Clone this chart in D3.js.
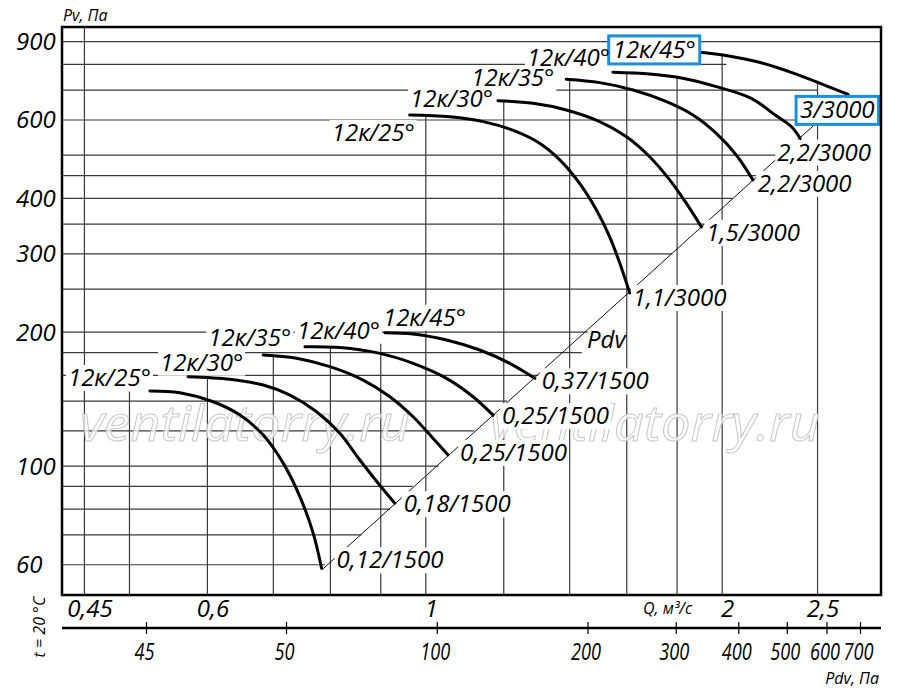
<!DOCTYPE html>
<html>
<head>
<meta charset="utf-8">
<script src="https://cdn.jsdelivr.net/npm/d3@7"></script>
<style>
  body { margin: 0; background: #fff; }
  text { font-family: "Open Sans", sans-serif; font-style: italic; }
</style>
</head>
<body>
<div id="chart"></div>
<script>
// ---- data ----
const qTicks = [0.45, 0.6, 1, 2, 2.5];
const qTickLabels = ["0,45", "0,6", "1", "2", "2,5"];
const pTicks = [60, 100, 200, 300, 400, 600, 900];
const pdvTicks = [45, 50, 100, 200, 300, 400, 500, 600, 700];

// horizontal grid lines (Pv) and where each one stops (Q)
const gridP    = [900, 800, 700, 600, 500, 450, 400, 350, 300, 250, 200, 180, 160, 140, 120, 100, 90, 80, 70, 60];
const gridPEnd = [2.9, 2.02, 2.5, 2.55, 2.28, 2.17, 2.05, 1.92, 1.78, 1.62, 1.46, 1.44, 1.30, 1.21, 1.12, 1.03, 0.97, 0.92, 0.86, 0.79];
// vertical grid lines (Q) and their top (Pv)
const gridQ    = [0.45, 0.5, 0.6, 0.7, 0.8, 0.9, 1.0, 1.2, 1.4, 1.6, 1.8, 2.0, 2.5];
const gridQTop = [971, 147, 159, 178, 184, 198, 616, 660, 741, 764, 745, 840, 735];

// Pdv line
const pdvLineQ = [0.784, 2.685];
const pdvLineP = [58.4, 685];

// 3000 rpm
const highNames  = ["12к/25°", "12к/30°", "12к/35°", "12к/40°", "12к/45°"];
const highMotors = ["1,1/3000", "1,5/3000", "2,2/3000", "2,2/3000", "3/3000"];
const highQ = [
  [0.963, 1.058, 1.144, 1.236, 1.305, 1.368, 1.433, 1.491, 1.537, 1.574, 1.611],
  [1.184, 1.285, 1.389, 1.502, 1.599, 1.688, 1.769, 1.839, 1.905],
  [1.389, 1.502, 1.624, 1.756, 1.868, 1.973, 2.068, 2.149],
  [1.549, 1.688, 1.824, 1.973, 2.141, 2.270, 2.351, 2.401],
  [1.794, 1.911, 2.004, 2.200, 2.386, 2.552, 2.685]
];
const highP = [
  [616, 610, 595, 565, 532, 488, 432, 376, 328, 286, 245],
  [663, 654, 632, 595, 550, 496, 440, 390, 345],
  [741, 728, 701, 660, 616, 560, 500, 440],
  [768, 761, 745, 713, 671, 613, 580, 545],
  [858, 851, 840, 805, 759, 716, 685]
];

// 1500 rpm
const lowNames  = ["12к/25°", "12к/30°", "12к/35°", "12к/40°", "12к/45°"];
const lowMotors = ["0,12/1500", "0,18/1500", "0,25/1500", "0,25/1500", "0,37/1500"];
const lowQ = [
  [0.5245, 0.5625, 0.6082, 0.6475, 0.6837, 0.7166, 0.745, 0.7685, 0.7836],
  [0.5735, 0.6324, 0.6837, 0.7278, 0.7745, 0.8178, 0.857, 0.8945, 0.9301],
  [0.6837, 0.739, 0.7991, 0.8636, 0.9194, 0.9707, 1.0172, 1.0534],
  [0.7537, 0.8115, 0.8981, 0.9707, 1.0496, 1.1169, 1.1704],
  [0.9088, 0.9707, 1.0496, 1.1345, 1.2168, 1.2904]
];
const lowP = [
  [147.5, 146.2, 139.5, 130.2, 117.4, 101.4, 85.3, 70.6, 58.9],
  [158.8, 156.7, 152.1, 144.4, 132.5, 118.5, 103.2, 91.5, 82.5],
  [177.8, 174.8, 167.3, 156.1, 143.2, 129.1, 115.4, 105.9],
  [185.5, 184.9, 179.2, 170.2, 157.5, 143.2, 130.2],
  [199.5, 198.2, 192.1, 182.4, 170.2, 157.5]
];

// ---- layout ----
const width = 900, height = 689;
const FS = 24;

const svg = d3.select("#chart").append("svg")
  .attr("width", width)
  .attr("height", height)
  .style("background-color", "#fff");

const x = d3.scaleLog().domain([0.427, 2.9]).range([62, 881]);
const y = d3.scaleLog().domain([51.3, 971]).range([595, 27]);
const xPdv = d3.scaleLog().domain([45, 50, 700]).range([146, 286, 860]);

// grid
const grid = svg.append("g").attr("stroke", "#3a3a3a").attr("stroke-width", 1.2);
grid.selectAll("line.h").data(gridP).join("line").attr("class", "h")
  .attr("x1", x.range()[0]).attr("x2", (d, i) => x(gridPEnd[i]))
  .attr("y1", d => y(d)).attr("y2", d => y(d));
grid.selectAll("line.v").data(gridQ).join("line").attr("class", "v")
  .attr("x1", d => x(d)).attr("x2", d => x(d))
  .attr("y1", y.range()[0]).attr("y2", (d, i) => y(gridQTop[i]));

// watermark
svg.append("g").selectAll("text").data([80, 490]).join("text")
  .attr("x", d => d).attr("y", 441)
  .attr("font-size", 50)
  .attr("textLength", 330).attr("lengthAdjust", "spacingAndGlyphs")
  .attr("fill", "#fff").attr("fill-opacity", 0.75)
  .attr("stroke", "#c8c8c8").attr("stroke-width", 1)
  .text("ventilatorry.ru");

// Pdv line
const lineGen = d3.line().x(d => x(d[0])).y(d => y(d[1]));
svg.append("path")
  .attr("d", lineGen(d3.zip(pdvLineQ, pdvLineP)))
  .attr("fill", "none").attr("stroke", "#111").attr("stroke-width", 1);

const bgLayer = svg.append("g");
const curveLayer = svg.append("g");
const boxLayer = svg.append("g");
const textLayer = svg.append("g");

// curves
const curveGen = d3.line().x(d => x(d[0])).y(d => y(d[1])).curve(d3.curveCatmullRom.alpha(0.5));
const allQ = highQ.concat(lowQ), allP = highP.concat(lowP);
curveLayer.selectAll("path").data(allQ.map((q, i) => d3.zip(q, allP[i]))).join("path")
  .attr("d", curveGen)
  .attr("fill", "none").attr("stroke", "#000").attr("stroke-width", 3)
  .attr("stroke-linecap", "round");

// labels
function label(txt, px, py, boxed) {
  const t = textLayer.append("text")
    .attr("x", px).attr("y", py)
    .attr("font-size", FS)
    .attr("fill", "#000")
    .text(txt);
  const b = t.node().getBBox();
  bgLayer.append("rect")
    .attr("x", b.x - 2).attr("y", py - 21)
    .attr("width", b.width + 4).attr("height", 26)
    .attr("fill", "#fff");
  if (boxed) {
    boxLayer.append("rect")
      .attr("x", b.x - 4).attr("y", py - 22)
      .attr("width", b.width + 8).attr("height", 28)
      .attr("fill", "#fff").attr("stroke", "#1b8fdf").attr("stroke-width", 3);
  }
}

const highNameOff  = [[-78, 26], [-88, 6], [-95, 7], [-86, -6], [-63, 7]];
const highMotorOff = [[3, 13], [5, 14], [5, 12], [-23, 22], [-48, 24]];
const lowNameOff   = [[-82, -5], [-28, -6], [-55, -9], [-8, -8], [-2, -7]];
const lowMotorOff  = [[15, 0], [9, 9], [12, 6], [9, 9], [7, 11]];

highQ.forEach((q, i) => {
  const sx = x(q[0]), sy = y(highP[i][0]);
  const ex = x(q[q.length - 1]), ey = y(highP[i][highP[i].length - 1]);
  label(highNames[i], sx + highNameOff[i][0], sy + highNameOff[i][1], i === 4);
  label(highMotors[i], ex + highMotorOff[i][0], ey + highMotorOff[i][1], i === 4);
});
lowQ.forEach((q, i) => {
  const sx = x(q[0]), sy = y(lowP[i][0]);
  const ex = x(q[q.length - 1]), ey = y(lowP[i][lowP[i].length - 1]);
  label(lowNames[i], sx + lowNameOff[i][0], sy + lowNameOff[i][1], false);
  label(lowMotors[i], ex + lowMotorOff[i][0], ey + lowMotorOff[i][1], false);
});
textLayer.append("text").attr("x", 587).attr("y", 348).attr("font-size", FS).text("Pdv");

// frame
svg.append("rect")
  .attr("x", x.range()[0]).attr("y", y.range()[1])
  .attr("width", x.range()[1] - x.range()[0]).attr("height", y.range()[0] - y.range()[1])
  .attr("fill", "none").attr("stroke", "#000").attr("stroke-width", 2.5);

// Pv axis labels
svg.append("g").attr("transform", "translate(16,0)")
  .call(d3.axisLeft(y).tickValues(pTicks).tickSize(0).tickFormat(d3.format("d")))
  .call(g => g.select(".domain").remove())
  .call(g => g.selectAll("text")
    .attr("x", 0).attr("dy", null).attr("y", 8)
    .attr("text-anchor", "start")
    .attr("font-family", "Open Sans, sans-serif").attr("font-size", FS).attr("fill", "#000"));

// Q axis labels
svg.append("g").attr("transform", `translate(0,${y.range()[0]})`)
  .call(d3.axisBottom(x).tickValues(qTicks).tickSize(0).tickFormat((d, i) => qTickLabels[i]))
  .call(g => g.select(".domain").remove())
  .call(g => g.selectAll("text")
    .attr("dy", null).attr("y", 22).attr("dx", 5)
    .attr("font-family", "Open Sans, sans-serif").attr("font-size", FS).attr("fill", "#000"));

// Pdv axis
const pdvY = 628;
svg.append("line")
  .attr("x1", x.range()[0]).attr("x2", x.range()[1])
  .attr("y1", pdvY).attr("y2", pdvY)
  .attr("stroke", "#000").attr("stroke-width", 2.5);
svg.append("g").attr("transform", `translate(0,${pdvY})`)
  .call(d3.axisBottom(xPdv).tickValues(pdvTicks).tickFormat(d3.format("d")))
  .call(g => g.select(".domain").remove())
  .call(g => g.selectAll(".tick line").attr("y1", -6).attr("y2", 6).attr("stroke", "#000").attr("stroke-width", 1.2))
  .call(g => g.selectAll("text")
    .attr("dy", null).attr("y", 32).attr("dx", -2)
    .attr("font-family", "Open Sans, sans-serif").attr("font-size", 24).attr("fill", "#000")
    .attr("textLength", d => String(d).length * 10).attr("lengthAdjust", "spacingAndGlyphs"));

// axis titles
svg.append("text").attr("x", 63).attr("y", 21).attr("font-size", 16).text("Pv, Па");
svg.append("text").attr("x", 643).attr("y", 614).attr("font-size", 16).text("Q, м³/с");
svg.append("text").attr("x", 879).attr("y", 684).attr("font-size", 16).attr("text-anchor", "end").text("Pdv, Па");
svg.append("text").attr("transform", "translate(45,627) rotate(-90)")
  .attr("text-anchor", "middle").attr("font-size", 16).text("t = 20 °C");
</script>
</body>
</html>
